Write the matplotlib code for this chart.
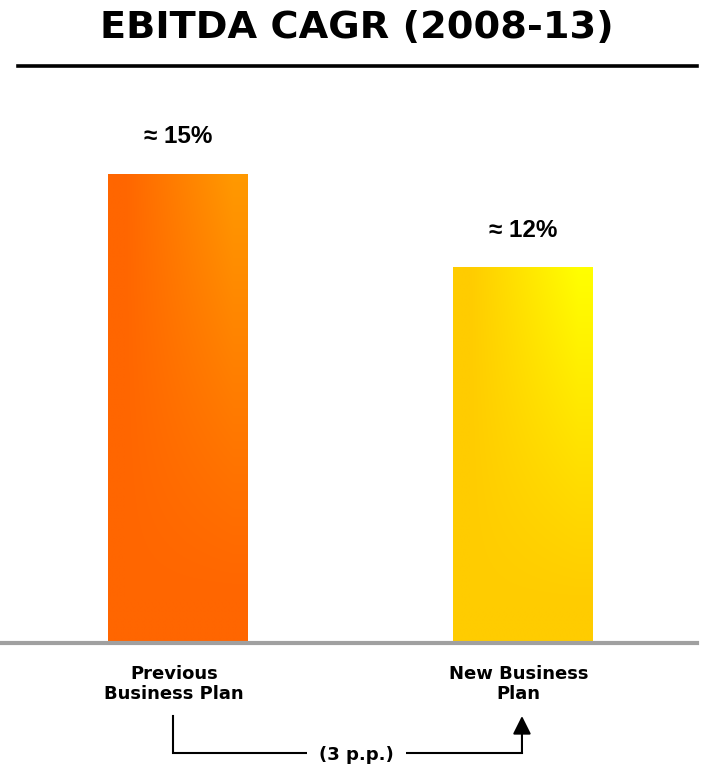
import numpy as np
import matplotlib
matplotlib.use("Agg")
import matplotlib.pyplot as plt
from matplotlib.lines import Line2D
from matplotlib.colors import to_rgb
from matplotlib.transforms import blended_transform_factory

# data
categories = ["Previous\nBusiness Plan", "New Business\nPlan"]
cagr = [15, 12]
value_labels = ["≈ 15%", "≈ 12%"]
gap_label = "(3 p.p.)"
title = "EBITDA CAGR (2008-13)"

# gradient colours per bar: (base colour, highlight colour)
bar_colors = [("#FF6600", "#FF9900"), ("#FFCC00", "#FFFF00")]

W, H = 702, 765
fig = plt.figure(figsize=(W / 100, H / 100), dpi=100)

# main axes: baseline at pixel 643, top of axes at pixel 80
base_px, top_px = 643, 80
px_per_unit = (643 - 174) / 15.0
ax = fig.add_axes([0, 1 - base_px / H, 1, (base_px - top_px) / H])
ax.set_ylim(0, (base_px - top_px) / px_per_unit)
ax.set_xlim(-178 / 345, (W - 178) / 345)
ax.axis("off")

bar_w = 140 / 345


def gradient_img(c0, c1, nx=120, ny=300):
    xs = np.linspace(0, 1, nx)
    ys = np.linspace(0, 1, ny)
    tx = np.clip((xs - 0.12) / 0.78, 0, 1)
    ty = np.clip((ys - 0.1) / 0.9, 0, 1) ** 1.1
    t = ty[:, None] * tx[None, :]
    a, b = np.array(to_rgb(c0)), np.array(to_rgb(c1))
    return a[None, None, :] * (1 - t[..., None]) + b[None, None, :] * t[..., None]


for i, (v, (c0, c1)) in enumerate(zip(cagr, bar_colors)):
    ax.imshow(gradient_img(c0, c1), extent=[i - bar_w / 2, i + bar_w / 2, 0, v],
              origin="lower", aspect="auto", interpolation="bilinear", zorder=2)
    ax.annotate(value_labels[i], xy=(i, v), xytext=(0, 27), textcoords="offset points",
                ha="center", va="center", fontsize=17.5, fontweight="bold",
                family="Liberation Sans")
    ax.annotate(categories[i], xy=(i, 0), xytext=(-3, -15.5), textcoords="offset points",
                ha="center", va="top", fontsize=13, fontweight="bold",
                family="DejaVu Sans", linespacing=1.18)

# grey baseline
ax.axhline(0, xmin=0, xmax=697 / W, color="#A0A0A0", lw=3, clip_on=False, zorder=3)

# title and rule
fig.text(357 / W, 1 - 28 / H, title, ha="center", va="center", fontsize=27.5,
         fontweight="bold", family="DejaVu Sans")
fig.add_artist(Line2D([18 / W, 697 / W], [1 - 66 / H] * 2, color="black", lw=2.6))

# bracket showing the drop
tr = blended_transform_factory(ax.transData, fig.transFigure)
y_top = 1 - 716 / H
y_bot = 1 - 753 / H
x_left, x_right = -0.015, 0.997
ax.plot([x_left, x_left, x_right], [y_top, y_bot, y_bot], color="black", lw=1.5,
        transform=tr, clip_on=False, solid_joinstyle="miter")
ax.annotate("", xy=(x_right, y_top), xytext=(x_right, y_bot + 0.001),
            xycoords=tr, textcoords=tr,
            arrowprops=dict(arrowstyle="-|>,head_length=1.1,head_width=0.55",
                            color="black", lw=1.5, shrinkA=0, shrinkB=0))
ax.text(0.517, y_bot - 0.002, gap_label, transform=tr, ha="center", va="center",
        fontsize=13, fontweight="bold", family="DejaVu Sans",
        bbox=dict(facecolor="white", edgecolor="none", pad=9))

fig.savefig("out.png", dpi=100)
